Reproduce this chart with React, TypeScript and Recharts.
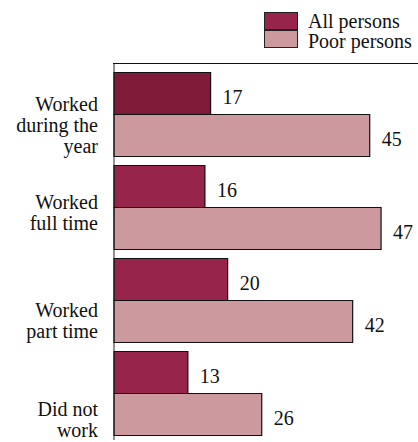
import { BarChart, Bar, XAxis, YAxis, Cell, LabelList } from "recharts";

const categories = ["Worked\nduring the\nyear", "Worked\nfull time", "Worked\npart time", "Did not\nwork"];
const allPersons = [17, 16, 20, 13];
const poorPersons = [45, 47, 42, 26];

const data = categories.map((name, i) => ({
  name,
  all: allPersons[i],
  poor: poorPersons[i],
}));

const ALL_COLOR = "#97244a";
const ALL_HIGHLIGHT = "#7f1b38";
const POOR_COLOR = "#cc9a9e";
const FONT = "Liberation Serif";

// vertical nudge for the category labels (they don't sit on the band centre)
const labelShift = [10, 5, 20, 26];

const CategoryTick = ({ y, payload, index }: any) => {
  const lines = String(payload.value).split("\n");
  const lh = 21;
  const top = y + (labelShift[index] || 0) - ((lines.length - 1) * lh) / 2;
  return (
    <text x={98} y={top} textAnchor="end" fontSize={20} fontFamily={FONT} fill="#111">
      {lines.map((l, i) => (
        <tspan key={i} x={98} y={top + i * lh} dy="0.35em">
          {l}
        </tspan>
      ))}
    </text>
  );
};

const ValueLabel = (props: any) => {
  const { x, y, width, height, value } = props;
  return (
    <text x={x + width + 12} y={y + height / 2 + 3.5} dy="0.35em" fontSize={20} fontFamily={FONT} fill="#111">
      {value}
    </text>
  );
};

const LegendBox = () => (
  <div style={{ position: "absolute", left: 264, top: 12, width: 160, height: 40, fontFamily: FONT, fontSize: 20, color: "#111" }}>
    <div style={{ position: "absolute", left: 0, top: 0, width: 32, height: 16, background: ALL_COLOR, border: "1px solid #222" }} />
    <div style={{ position: "absolute", left: 0, top: 18, width: 32, height: 16, background: POOR_COLOR, border: "1px solid #222" }} />
    <div style={{ position: "absolute", left: 44, top: -1, lineHeight: "20px", whiteSpace: "nowrap" }}>All persons</div>
    <div style={{ position: "absolute", left: 44, top: 19, lineHeight: "20px", whiteSpace: "nowrap" }}>Poor persons</div>
  </div>
);

export default function App() {
  return (
    <div style={{ position: "relative", width: 418, height: 442, background: "#fff", overflow: "hidden" }}>
      <style>{"body{margin:0}"}</style>
      <BarChart
        width={418}
        height={442}
        data={data}
        layout="vertical"
        margin={{ top: 64, right: 0, bottom: 2, left: 0 }}
        barCategoryGap={4.5}
        barGap={0}
      >
        <XAxis type="number" domain={[0, 53.5]} hide />
        <YAxis
          type="category"
          dataKey="name"
          width={114}
          padding={{ top: 4, bottom: 0 }}
          tickLine={false}
          axisLine={{ stroke: "#222", strokeWidth: 1 }}
          tick={<CategoryTick />}
          interval={0}
        />
        <Bar dataKey="all" name="All persons" fill={ALL_COLOR} stroke="#111" strokeWidth={1.2} isAnimationActive={false}>
          {data.map((_, i) => (
            <Cell key={`all-${i}`} fill={i === 0 ? ALL_HIGHLIGHT : ALL_COLOR} />
          ))}
          <LabelList dataKey="all" content={<ValueLabel />} />
        </Bar>
        <Bar dataKey="poor" name="Poor persons" fill={POOR_COLOR} stroke="#111" strokeWidth={1.2} isAnimationActive={false}>
          <LabelList dataKey="poor" content={<ValueLabel />} />
        </Bar>
      </BarChart>
      <LegendBox />
      {/* top edge of the plot frame */}
      <div style={{ position: "absolute", left: 113, top: 63, width: 305, height: 0, borderTop: "1.5px solid #111", zIndex: 5 }} />
    </div>
  );
}
